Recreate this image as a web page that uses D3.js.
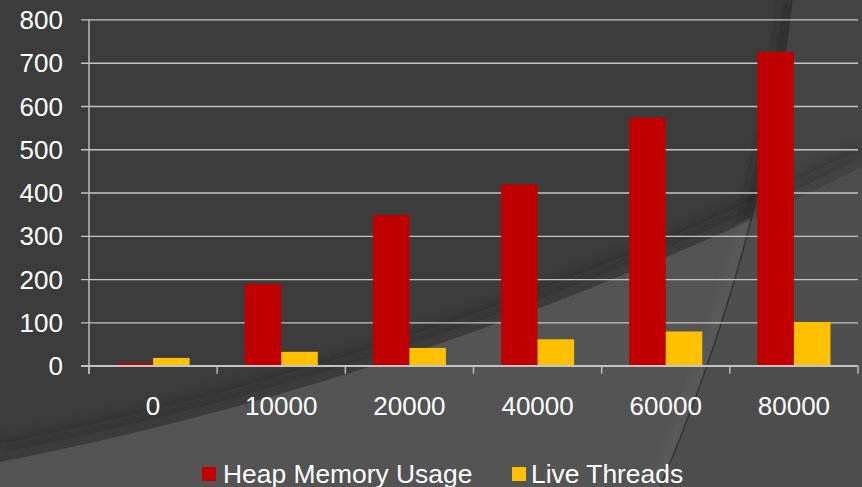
<!DOCTYPE html>
<html>
<head>
<meta charset="utf-8">
<script src="https://cdn.jsdelivr.net/npm/d3@7/dist/d3.min.js"></script>
<style>
html,body{margin:0;padding:0;background:#3b3b3b;}
svg{display:block;}
text{font-family:"Liberation Sans",Arial,sans-serif;fill:#ffffff;}
</style>
</head>
<body>
<svg id="chart" width="862" height="487"></svg>
<script>
const categories = ["0", "10000", "20000", "40000", "60000", "80000"];
const seriesNames = ["Heap Memory Usage", "Live Threads"];
const heapMemory = [6, 189, 348, 419, 573, 725];
const liveThreads = [18, 32, 41, 61, 79, 101];
const yTicks = [0, 100, 200, 300, 400, 500, 600, 700, 800];
const colors = ["#c00000", "#ffc000"];

const W = 862, H = 487;
const FONT = "26px";
const LEGEND_FONT = "26.4px";
const svg = d3.select("#chart");
const defs = svg.append("defs");

defs.append("filter").attr("id", "blur").attr("x", "-20%").attr("y", "-50%").attr("width", "140%").attr("height", "200%")
  .append("feGaussianBlur").attr("stdDeviation", 8);
defs.append("filter").attr("id", "blur2").attr("x", "-50%").attr("y", "-20%").attr("width", "200%").attr("height", "140%")
  .append("feGaussianBlur").attr("stdDeviation", 4);

svg.append("rect").attr("width", W).attr("height", H).attr("fill", "#3c3c3c");

const sweep = "M0,462 C287,405 575,310 862,167";
const lowerPath = sweep + " L862,487 L0,487 Z";
const upperPath = "M0,0 L862,0 L862,167 C575,310 287,405 0,462 Z";
defs.append("clipPath").attr("id", "clipTop").append("path").attr("d", upperPath);
defs.append("clipPath").attr("id", "clipBot").append("path").attr("d", lowerPath);

// right curved panel (top part lighter)
const rc = "M792,0 Q764,242.5 660,487";
const rcRegion = rc + " L862,487 L862,0 Z";
svg.append("path").attr("d", rc).attr("fill", "none")
  .attr("stroke", "#202020").attr("stroke-opacity", 0.45).attr("stroke-width", 10)
  .attr("transform", "translate(-5,0)").attr("filter", "url(#blur2)").attr("clip-path", "url(#clipTop)");
svg.append("path").attr("d", rcRegion).attr("fill", "#444444").attr("clip-path", "url(#clipTop)");

// shadow above the sweep
svg.append("path").attr("d", sweep).attr("fill", "none")
  .attr("stroke", "#1e1e1e").attr("stroke-opacity", 0.3).attr("stroke-width", 18)
  .attr("transform", "translate(0,-9)").attr("filter", "url(#blur)").attr("clip-path", "url(#clipTop)");
svg.append("path").attr("d", lowerPath).attr("fill", "#545454");

// lower right panel
svg.append("path").attr("d", rc).attr("fill", "none")
  .attr("stroke", "#6a6a6a").attr("stroke-opacity", 0.3).attr("stroke-width", 10)
  .attr("transform", "translate(-6,0)").attr("filter", "url(#blur2)").attr("clip-path", "url(#clipBot)");
svg.append("path").attr("d", rcRegion).attr("fill", "#4e4e4e").attr("clip-path", "url(#clipBot)");
svg.append("path").attr("d", rc).attr("fill", "none").attr("stroke", "#2e2e2e").attr("stroke-width", 1.2);

// scales
const x0 = d3.scaleBand().domain(categories).range([89, 858]).paddingInner(0.43).paddingOuter(0.215);
const x1 = d3.scaleBand().domain(seriesNames).range([0, x0.bandwidth()]);
const y = d3.scaleLinear().domain([0, 800]).range([365.7, 19.4]);

const gridColor = "#c4c4c4";

// gridlines + y ticks
const yAxis = d3.axisLeft(y).tickValues(yTicks).tickSize(8).tickSizeOuter(0).tickFormat(d3.format("d"));
const gy = svg.append("g").attr("transform", "translate(89,0)").call(yAxis);
gy.select(".domain").remove();
gy.selectAll(".tick line").attr("stroke", gridColor).attr("stroke-width", 1.4).attr("x1", 0).attr("x2", 858 - 89 + 8)
  .attr("transform", "translate(-8,0)");
gy.selectAll(".tick text").attr("x", -26).attr("dy", "0.35em").style("font-size", FONT)
  .style("font-family", "'Liberation Sans', Arial, sans-serif").attr("fill", "#ffffff");

// bars
const data = categories.map((c, i) => ({ cat: c, vals: [heapMemory[i], liveThreads[i]] }));
const groups = svg.append("g").selectAll("g").data(data).join("g")
  .attr("transform", d => `translate(${x0(d.cat)},0)`);
groups.selectAll("rect").data(d => d.vals.map((v, k) => ({ name: seriesNames[k], v, k }))).join("rect")
  .attr("x", d => x1(d.name)).attr("width", x1.bandwidth())
  .attr("y", d => y(d.v)).attr("height", d => y(0) - y(d.v))
  .attr("fill", d => colors[d.k]);

// y axis line
svg.append("line").attr("x1", 89).attr("x2", 89).attr("y1", 19.4).attr("y2", 374)
  .attr("stroke", gridColor).attr("stroke-width", 1.4);

// x axis
const xAxis = d3.axisBottom(x0).tickSize(0).tickSizeOuter(0);
const gx = svg.append("g").attr("transform", `translate(0,${y(0)})`).call(xAxis);
gx.select(".domain").remove();
gx.selectAll(".tick text").attr("y", 0).attr("dy", 0).attr("transform", "translate(0,49.5)")
  .style("font-size", FONT).style("font-family", "'Liberation Sans', Arial, sans-serif").attr("fill", "#ffffff");
svg.append("line").attr("x1", 81).attr("x2", 858).attr("y1", y(0)).attr("y2", y(0))
  .attr("stroke", gridColor).attr("stroke-width", 1.6);
const boundaries = categories.map(c => x0(c) - x0.step() * x0.paddingOuter()).concat([858]);
svg.append("g").selectAll("line").data(boundaries).join("line")
  .attr("x1", d => d).attr("x2", d => d).attr("y1", y(0)).attr("y2", y(0) + 8)
  .attr("stroke", gridColor).attr("stroke-width", 1.4);

// legend
const legendX = [202, 512];
const lg = svg.append("g").selectAll("g").data(seriesNames).join("g")
  .attr("transform", (d, i) => `translate(${legendX[i]},0)`);
lg.append("rect").attr("x", 0).attr("y", 467).attr("width", 14).attr("height", 14).attr("fill", (d, i) => colors[i]);
lg.append("text").attr("x", (d, i) => i === 0 ? 21 : 19).attr("y", 482.5).style("font-size", LEGEND_FONT).text(d => d);
</script>
</body>
</html>
